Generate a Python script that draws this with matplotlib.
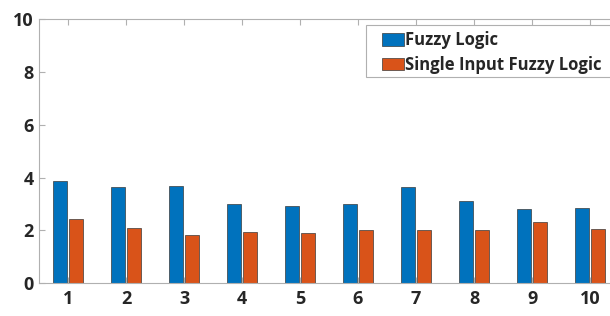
import numpy as np
import matplotlib
matplotlib.use('Agg')
from matplotlib import pyplot as plt
from matplotlib.patches import Rectangle

categories = [1, 2, 3, 4, 5, 6, 7, 8, 9, 10]
fuzzy = [3.87, 3.64, 3.69, 2.99, 2.92, 3.00, 3.66, 3.11, 2.81, 2.84]
single_input = [2.42, 2.08, 1.84, 1.94, 1.89, 2.02, 2.02, 2.02, 2.31, 2.07]
yticks = [0, 2, 4, 6, 8, 10]

plt.rcParams['font.family'] = ['Open Sans', 'DejaVu Sans']

fig = plt.figure(figsize=(6.1, 3.16), dpi=100)
# the axes run past the right edge of the figure, as in the reference crop
ax = fig.add_axes([39 / 610, 32.7 / 316, 580 / 610, 264.3 / 316])

x = np.array(categories)
w = 0.23
off = 0.14
ax.bar(x - off, fuzzy, w, color='#0072BD', edgecolor='#3a3a3a', linewidth=0.5,
       label='Fuzzy Logic')
ax.bar(x + off, single_input, w, color='#D95319', edgecolor='#3a3a3a', linewidth=0.5,
       label='Single Input Fuzzy Logic')

ax.set_xlim(0.5, 10.5)
ax.set_ylim(0, 10)
ax.set_xticks(x)
ax.set_yticks(yticks)
ax.tick_params(axis='both', direction='in', length=4, color='#b0b0b0',
               labelsize=13, labelcolor='#262626', top=True, right=True)
ax.tick_params(axis='x', pad=5)
ax.tick_params(axis='y', pad=4)
for lbl in ax.get_xticklabels() + ax.get_yticklabels():
    lbl.set_fontweight('bold')
for s in ax.spines.values():
    s.set_color('#b0b0b0')
    s.set_linewidth(0.8)

# legend frame drawn by hand: it is cut off by the right edge like the axes
frame = Rectangle((366 / 610, 1 - 77 / 316), 260 / 610, 52 / 316,
                  transform=fig.transFigure, facecolor='white',
                  edgecolor='#b0b0b0', linewidth=0.8, zorder=4, clip_on=False)
ax.add_patch(frame)
leg = ax.legend(loc='upper left', bbox_to_anchor=(382 / 610, 1 - 31 / 316),
                bbox_transform=fig.transFigure,
                prop={'weight': 'bold', 'size': 12}, frameon=False,
                handlelength=1.3, handleheight=0.8,
                handletextpad=0.1, borderpad=0, borderaxespad=0,
                labelspacing=0.4)
leg.set_zorder(6)
for t in leg.get_texts():
    t.set_color('#262626')

fig.savefig('out.png', dpi=100)
